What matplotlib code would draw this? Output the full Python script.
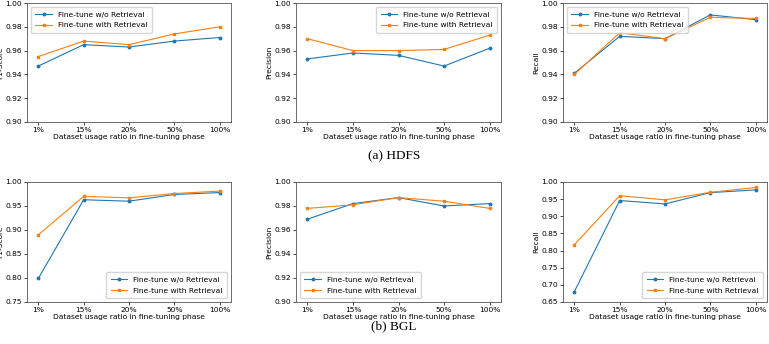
import matplotlib
matplotlib.use("Agg")
import matplotlib.pyplot as plt

ratios = ["1%", "15%", "20%", "50%", "100%"]

hdfs_f1_wo = [0.947, 0.965, 0.963, 0.968, 0.971]
hdfs_f1_with = [0.955, 0.968, 0.965, 0.974, 0.980]
hdfs_prec_wo = [0.953, 0.958, 0.956, 0.947, 0.962]
hdfs_prec_with = [0.970, 0.960, 0.960, 0.961, 0.973]
hdfs_rec_wo = [0.941, 0.972, 0.970, 0.990, 0.986]
hdfs_rec_with = [0.940, 0.975, 0.970, 0.988, 0.987]

bgl_f1_wo = [0.799, 0.963, 0.960, 0.974, 0.978]
bgl_f1_with = [0.890, 0.970, 0.967, 0.976, 0.981]
bgl_prec_wo = [0.969, 0.982, 0.987, 0.980, 0.982]
bgl_prec_with = [0.978, 0.981, 0.987, 0.984, 0.978]
bgl_rec_wo = [0.680, 0.946, 0.936, 0.969, 0.977]
bgl_rec_with = [0.817, 0.960, 0.948, 0.970, 0.984]

W, H = 769, 344
fig = plt.figure(figsize=(W / 100, H / 100), dpi=100)

def ax_at(l, t, r, b):
    return fig.add_axes([l / W, 1 - b / H, (r - l) / W, (b - t) / H])

panels = [
    ((27, 3, 231, 122), "F1-Score", hdfs_f1_wo, hdfs_f1_with, (0.90, 1.00),
     [0.90, 0.92, 0.94, 0.96, 0.98, 1.00], "upper left"),
    ((296, 3, 501, 122), "Precision", hdfs_prec_wo, hdfs_prec_with, (0.90, 1.00),
     [0.90, 0.92, 0.94, 0.96, 0.98, 1.00], "upper right"),
    ((563, 3, 767, 122), "Recall", hdfs_rec_wo, hdfs_rec_with, (0.90, 1.00),
     [0.90, 0.92, 0.94, 0.96, 0.98, 1.00], "upper left"),
    ((27, 182, 231, 302), "F1-Score", bgl_f1_wo, bgl_f1_with, (0.75, 1.00),
     [0.75, 0.80, 0.85, 0.90, 0.95, 1.00], "lower right"),
    ((296, 182, 501, 302), "Precision", bgl_prec_wo, bgl_prec_with, (0.90, 1.00),
     [0.90, 0.92, 0.94, 0.96, 0.98, 1.00], "lower left"),
    ((563, 182, 767, 302), "Recall", bgl_rec_wo, bgl_rec_with, (0.65, 1.00),
     [0.65, 0.70, 0.75, 0.80, 0.85, 0.90, 0.95, 1.00], "lower right"),
]

fs = 5.4
for box, ylab, wo, wi, ylim, yt, loc in panels:
    ax = ax_at(*box)
    x = list(range(len(ratios)))
    ax.plot(x, wo, color="#1f77b4", marker="o", markersize=1.8, linewidth=0.8,
            label="Fine-tune w/o Retrieval")
    ax.plot(x, wi, color="#ff7f0e", marker="s", markersize=1.8, linewidth=0.8,
            label="Fine-tune with Retrieval")
    ax.set_ylim(*ylim)
    ax.set_yticks(yt)
    ax.set_yticklabels([f"{v:.2f}" for v in yt])
    ax.set_xticks(x)
    ax.set_xticklabels(ratios)
    ax.set_xlim(-0.25, 4.25)
    ax.tick_params(labelsize=fs, length=2, width=0.5, pad=1.5)
    ax.set_ylabel(ylab, fontsize=fs, labelpad=1.5)
    ax.set_xlabel("Dataset usage ratio in fine-tuning phase", fontsize=fs, labelpad=1)
    for s in ax.spines.values():
        s.set_linewidth(0.6)
        s.set_color("#555555")
    ax.legend(loc=loc, fontsize=fs, frameon=True, handlelength=2.2,
              borderpad=0.6, labelspacing=0.6, fancybox=True, framealpha=0.8)

fig.text(394 / W, 1 - 156 / H, "(a) HDFS", ha="center", va="center",
         fontsize=9.5, family="Liberation Serif")
fig.text(394 / W, 1 - 326 / H, "(b) BGL", ha="center", va="center",
         fontsize=9.5, family="Liberation Serif")

fig.savefig("out.png", dpi=100)
